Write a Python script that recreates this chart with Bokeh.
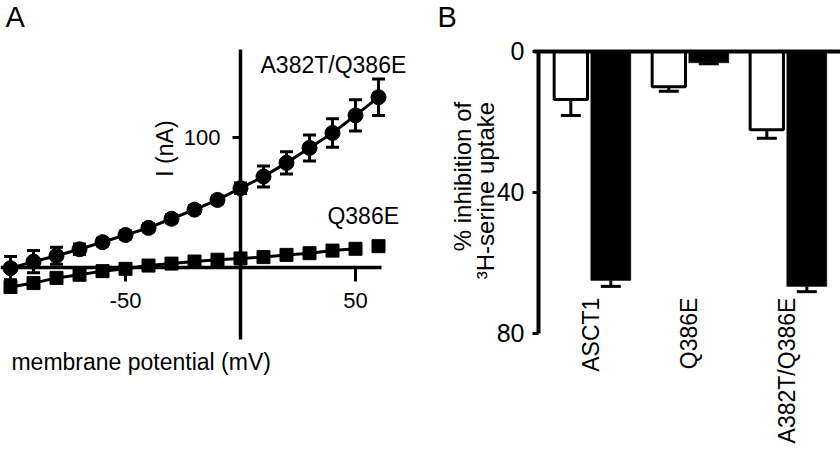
import math
import numpy as np
from bokeh.plotting import figure
from bokeh.models import Range1d, FixedTicker, Label, ColumnDataSource
from bokeh.layouts import row
from bokeh.core.properties import value
from bokeh.embed import file_html
from bokeh.resources import INLINE

FONT = "Liberation Sans"

# ---------------- Panel A data (I-V relation) ----------------
voltage_mv = [-100, -90, -80, -70, -60, -50, -40, -30, -20, -10, 0, 10, 20, 30, 40, 50, 60]
current_a382t_q386e = [-0.5, 4.5, 9, 14, 19.5, 25, 30.5, 37.5, 44.5, 52, 61, 70, 80.5, 92, 103.5, 117, 131]
current_a382t_q386e_err = [9, 8.5, 6.5, 4, 3, 3, 3, 3, 3, 3, 4, 8, 8.5, 10, 11, 12, 14]
current_q386e = [-15, -12, -8, -5.6, -2.8, -1, 1.5, 3, 4.6, 6, 7, 8, 9.7, 11, 13, 14.4, 16.4]
x_ticks_a = [-50, 50]
y_ticks_a = [100]

# ---------------- Panel B data (% inhibition) ----------------
constructs = ["ASCT1", "Q386E", "A382T/Q386E"]
inhib_open = [13.6, 10.0, 22.2]
inhib_open_err = [4.6, 1.3, 2.4]
inhib_filled = [65.0, 3.2, 66.7]
inhib_filled_err = [1.7, 0.3, 1.5]
y_ticks_b = [0, 40, 80]


def base_fig(x_range, y_range):
    p = figure(width=420, height=450, x_range=x_range, y_range=y_range,
               output_backend="svg", toolbar_location=None,
               min_border_left=0, min_border_right=0, min_border_top=0, min_border_bottom=0)
    p.grid.visible = False
    p.outline_line_color = None
    p.background_fill_color = "white"
    p.border_fill_color = "white"
    return p


def lab(p, x, y, text, size, align="left", baseline="alphabetic", angle=0.0):
    p.add_layout(Label(x=x, y=y, x_units="data", y_units="data", text=text, text_font=FONT,
                       text_font_size=size, text_align=align, text_baseline=baseline,
                       angle=angle, text_color="black"))


# ======================= Panel A =======================
pA = base_fig(Range1d(-104.35, 78.26), Range1d(-140.77, 205.38))

pA.xaxis.fixed_location = 0
pA.yaxis.fixed_location = 0
pA.xaxis.bounds = (-104.35, 61.3)
pA.yaxis.bounds = (-55.4, 167.7)
pA.xaxis.ticker = FixedTicker(ticks=x_ticks_a)
pA.yaxis.ticker = FixedTicker(ticks=y_ticks_a)
pA.xaxis.major_label_overrides = {t: str(t) for t in x_ticks_a}
pA.yaxis.major_label_overrides = {t: str(t) for t in y_ticks_a}
for ax in (pA.xaxis, pA.yaxis):
    ax.axis_line_width = 3.5
    ax.axis_line_color = "black"
    ax.major_tick_line_width = 3
    ax.major_tick_line_color = "black"
    ax.major_tick_in = 0
    ax.minor_tick_line_color = None
    ax.major_label_text_font = FONT
    ax.major_label_text_font_size = "22px"
    ax.major_label_text_color = "black"
pA.xaxis.major_tick_out = 14
pA.xaxis.major_label_standoff = 12
pA.yaxis.major_tick_out = 8
pA.yaxis.major_label_standoff = 12

v = np.array(voltage_mv, dtype=float)
ia = np.array(current_a382t_q386e)
ea = np.array(current_a382t_q386e_err)
lo = ia - ea
hi = ia + ea

# error bars
pA.segment(x0=v, y0=lo, x1=v, y1=hi, line_width=3, line_color="black")
pA.scatter(x=np.concatenate([v, v]), y=np.concatenate([lo, hi]), marker="dash", size=13,
           line_width=3, line_color="black")
# curves
pA.line(v, ia, line_width=3, line_color="black")
pA.scatter(v, ia, marker="circle", size=15, fill_color="black", line_color="black")
pA.line(v[:-1], current_q386e[:-1], line_width=3, line_color="black")
pA.scatter(v, current_q386e, marker="square", size=13, fill_color="black", line_color="black")

lab(pA, -102.2, 192.8, "A", "29px")
lab(pA, 8.7, 155.4, "A382T/Q386E", "23px")
lab(pA, 37.8, 39.4, "Q386E", "23px")
lab(pA, -99.6, -72.6, "membrane potential (mV)", "23px")
lab(pA, -32.7, 91.5, "I (nA)", "23px", align="center", baseline="alphabetic", angle=math.pi / 2)

# ======================= Panel B =======================
idx = np.arange(len(constructs), dtype=float)
pB = base_fig(Range1d(-1.738, 2.548), Range1d(113.3, -14.48))
pB.xaxis.fixed_location = 0
pB.yaxis.fixed_location = -0.534
pB.xaxis.bounds = (-0.585, 2.548)
pB.xaxis.ticker = FixedTicker(ticks=[])
pB.xaxis.minor_tick_line_color = None
pB.xaxis.major_tick_line_color = None
pB.xaxis.major_label_text_font_size = "0px"
pB.xaxis.axis_line_width = 4
pB.xaxis.axis_line_color = "black"

pB.yaxis.ticker = FixedTicker(ticks=y_ticks_b)
pB.yaxis.bounds = (0, 80)
pB.yaxis.axis_line_width = 4
pB.yaxis.axis_line_color = "black"
pB.yaxis.major_tick_line_width = 3
pB.yaxis.major_tick_line_color = "black"
pB.yaxis.major_tick_out = 6
pB.yaxis.major_tick_in = 0
pB.yaxis.minor_tick_line_color = None
pB.yaxis.major_label_text_font = FONT
pB.yaxis.major_label_text_font_size = "25px"
pB.yaxis.major_label_text_color = "black"
pB.yaxis.major_label_standoff = 8

dodge_b = 0.204
src = ColumnDataSource(dict(
    cat=constructs,
    x_open=idx - dodge_b,
    x_filled=idx + dodge_b,
    x_label=idx,
    open=inhib_open,
    open_hi=list(np.array(inhib_open) + np.array(inhib_open_err)),
    filled=inhib_filled,
    filled_hi=list(np.array(inhib_filled) + np.array(inhib_filled_err)),
))

pB.segment(x0="x_open", y0="open", x1="x_open", y1="open_hi", line_width=3, line_color="black", source=src)
pB.scatter(x="x_open", y="open_hi", marker="dash", size=20, line_width=3, line_color="black", source=src)
pB.segment(x0="x_filled", y0="filled", x1="x_filled", y1="filled_hi", line_width=3, line_color="black", source=src)
pB.scatter(x="x_filled", y="filled_hi", marker="dash", size=20, line_width=3, line_color="black", source=src)

pB.vbar(x="x_open", top="open", bottom=0, width=0.34, fill_color="white", line_color="black",
        line_width=3, source=src)
pB.vbar(x="x_filled", top="filled", bottom=0, width=0.408, fill_color="black", line_color="black",
        line_width=0.5, source=src)

pB.text(x="x_label", y=69.9, text="cat", angle=math.pi / 2, text_align="right", text_baseline="middle",
        text_font=value(FONT), text_font_size="23px", text_color="black", source=src)

lab(pB, -1.564, -9.85, "B", "29px")
lab(pB, -1.310, 14.3, "% inhibition of", "24px", align="right", angle=math.pi / 2)
lab(pB, -1.075, 14.3, "\u00b3H-serine uptake", "24px", align="right", angle=math.pi / 2)

layout = row(pA, pB)
open("out.html", "w").write(file_html(layout, INLINE, title="I-V and inhibition"))
